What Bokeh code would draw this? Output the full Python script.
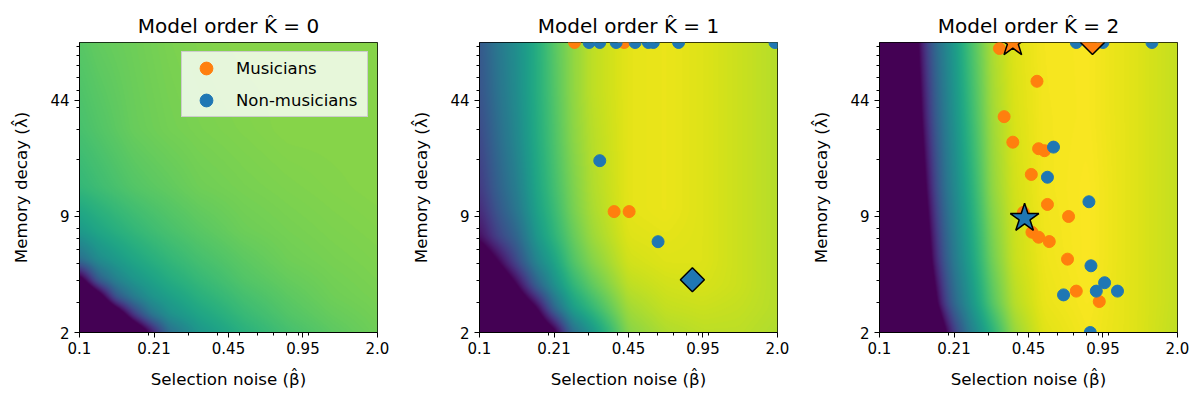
import numpy as np
from bokeh.plotting import figure
from bokeh.layouts import row
from bokeh.models import Range1d, FixedTicker, LinearColorMapper, Legend, LegendItem
from bokeh.palettes import Viridis256
from bokeh.embed import file_html
from bokeh.resources import INLINE

# ---------------- data ----------------
titles = ["Model order K\u0302 = 0", "Model order K\u0302 = 1", "Model order K\u0302 = 2"]
x_label = "Selection noise (\u03b2\u0302)"
y_label = "Memory decay (\u03bb\u0302)"
legend_labels = ["Musicians", "Non-musicians"]

x_min, x_max = 0.1, 2.0
y_min, y_max = 2.0, 95.0

x_tick_values = [0.1, 0.2115, 0.4472, 0.9457, 2.0]
x_tick_labels = ["0.1", "0.21", "0.45", "0.95", "2.0"]
x_minor_ticks = [0.2, 0.3, 0.4, 0.5, 0.6, 0.7, 0.8, 0.9, 1.0]
y_tick_values = [2.0, 9.38, 44.0]
y_tick_labels = ["2", "9", "44"]
y_minor_ticks = [3, 4, 5, 6, 7, 8, 10, 20, 30, 40, 50, 60, 70, 80, 90]

# heatmap readings: colour-scale position (0..1, below 0 = clipped dark) at
# (beta, lambda) reading points; rows go from lambda = 2 (bottom) to 95 (top)
k0_beta_nodes = [0.1, 0.1197, 0.1433, 0.1715, 0.2052, 0.2456, 0.3314, 0.5194, 0.8142, 1.276, 2.0]
k0_lambda_nodes = [2.0, 2.521, 3.179, 4.007, 5.251, 7.724, 13.78, 29.83, 95.0]
k0_z = [
    [-1.00, -0.82, -0.54, -0.26, 0.047, 0.362, 0.527, 0.636, 0.705, 0.750, 0.782],
    [-0.77, -0.49, -0.20, 0.155, 0.387, 0.503, 0.586, 0.674, 0.731, 0.767, 0.789],
    [-0.43, -0.15, 0.256, 0.413, 0.513, 0.563, 0.633, 0.703, 0.748, 0.781, 0.796],
    [-0.09, 0.291, 0.438, 0.522, 0.572, 0.618, 0.670, 0.730, 0.765, 0.788, 0.801],
    [0.360, 0.483, 0.542, 0.592, 0.630, 0.662, 0.705, 0.749, 0.782, 0.796, 0.806],
    [0.542, 0.592, 0.630, 0.662, 0.689, 0.712, 0.742, 0.778, 0.793, 0.804, 0.812],
    [0.664, 0.689, 0.712, 0.733, 0.747, 0.759, 0.782, 0.796, 0.806, 0.814, 0.820],
    [0.710, 0.730, 0.750, 0.770, 0.780, 0.790, 0.800, 0.810, 0.820, 0.820, 0.820],
    [0.740, 0.760, 0.770, 0.780, 0.790, 0.800, 0.810, 0.820, 0.820, 0.820, 0.820],
]

k1_beta_nodes = [0.1, 0.1197, 0.1454, 0.1767, 0.2115, 0.2531, 0.3075, 0.4472, 0.6503, 0.9457, 1.375, 2.0]
k1_lambda_nodes = [2.0, 2.724, 3.709, 5.052, 7.151, 10.12, 13.78, 26.57, 49.28, 95.0]
k1_z = [
    [-0.90, -0.70, -0.50, -0.25, -0.05, 0.35, 0.52, 0.82, 0.88, 0.90, 0.90, 0.88],
    [-0.70, -0.50, -0.25, -0.02, 0.33, 0.55, 0.66, 0.86, 0.91, 0.92, 0.91, 0.89],
    [-0.50, -0.25, 0.00, 0.30, 0.50, 0.65, 0.75, 0.90, 0.93, 0.94, 0.92, 0.89],
    [-0.20, -0.01, 0.22, 0.45, 0.58, 0.72, 0.81, 0.93, 0.95, 0.95, 0.92, 0.89],
    [0.04, 0.20, 0.33, 0.53, 0.65, 0.76, 0.85, 0.95, 0.96, 0.95, 0.92, 0.89],
    [0.12, 0.27, 0.40, 0.57, 0.68, 0.79, 0.87, 0.96, 0.97, 0.95, 0.92, 0.89],
    [0.17, 0.31, 0.43, 0.59, 0.70, 0.80, 0.88, 0.96, 0.97, 0.95, 0.92, 0.89],
    [0.22, 0.35, 0.47, 0.61, 0.72, 0.82, 0.89, 0.96, 0.97, 0.95, 0.92, 0.89],
    [0.26, 0.38, 0.49, 0.62, 0.73, 0.83, 0.90, 0.96, 0.97, 0.95, 0.92, 0.89],
    [0.28, 0.40, 0.50, 0.62, 0.74, 0.83, 0.90, 0.96, 0.97, 0.95, 0.92, 0.89],
]

k2_beta_nodes = [0.1, 0.1349, 0.1476, 0.1615, 0.1767, 0.1933, 0.2115, 0.2456, 0.3075,
                 0.385, 0.5194, 0.8142, 1.276, 2.0]
k2_lambda_nodes = [2.0, 2.942, 5.251, 13.78, 36.19, 95.0]
k2_z = [
    [-0.8, -0.80, -0.67, -0.46, -0.24, -0.02, 0.178, 0.407, 0.633, 0.843, 0.954, 0.985, 0.955, 0.905],
    [-0.8, -0.66, -0.45, -0.23, -0.02, 0.185, 0.338, 0.500, 0.729, 0.888, 0.968, 0.990, 0.955, 0.910],
    [-0.8, -0.53, -0.31, -0.10, 0.12, 0.286, 0.410, 0.557, 0.780, 0.915, 0.975, 0.995, 0.955, 0.910],
    [-0.8, -0.39, -0.18, 0.04, 0.23, 0.375, 0.467, 0.615, 0.831, 0.931, 0.981, 0.995, 0.955, 0.910],
    [-0.8, -0.29, -0.07, 0.14, 0.302, 0.420, 0.510, 0.660, 0.856, 0.942, 0.983, 0.990, 0.955, 0.910],
    [-0.8, -0.21, 0.008, 0.205, 0.354, 0.453, 0.543, 0.695, 0.872, 0.950, 0.985, 0.990, 0.955, 0.910],
]

# participants' fitted parameters (K = 1)
k1_mus_beta = [0.260, 0.428, 0.387, 0.450]
k1_mus_lambda = [95.0, 95.0, 10.0, 10.0]
k1_non_beta = [0.301, 0.335, 0.395, 0.478, 0.546, 0.574, 0.740, 1.95, 0.335, 0.602]
k1_non_lambda = [95.0, 95.0, 95.0, 95.0, 95.0, 95.0, 95.0, 95.0, 19.7, 6.7]

# participants' fitted parameters (K = 2)
k2_mus_beta = [0.334, 0.487, 0.350, 0.382, 0.495, 0.525, 0.460, 0.541, 0.669,
               0.425, 0.463, 0.495, 0.551, 0.662, 0.723, 0.911]
k2_mus_lambda = [87.7, 56.7, 35.4, 25.2, 23.1, 22.5, 16.4, 11.0, 9.37,
                 9.9, 7.60, 7.11, 6.71, 5.31, 3.47, 3.02]
k2_non_beta = [0.723, 0.945, 1.547, 0.575, 0.541, 0.821, 0.838, 0.961, 0.636, 0.884, 1.094, 0.832]
k2_non_lambda = [95.0, 95.0, 95.0, 23.6, 15.8, 11.4, 4.86, 3.88, 3.30, 3.47, 3.47, 2.0]

# group summary markers
k1_summary_beta = [0.850]
k1_summary_lambda = [4.04]
k1_summary_group = ["non"]
k1_summary_marker = ["diamond"]
k2_summary_beta = [0.382, 0.851, 0.430]
k2_summary_lambda = [95.0, 95.0, 9.16]
k2_summary_group = ["mus", "mus", "non"]
k2_summary_marker = ["star", "diamond", "star"]

ORANGE = "#ff7f0e"
BLUE = "#1f77b4"
FONT = "DejaVu Sans"


def upsample(bx, ly_nodes, z, nx=298, ny=290, sigma=3.0):
    z = np.asarray(z, dtype=float)
    lx = np.log10(bx)
    ly = np.log10(ly_nodes)
    gx = np.linspace(np.log10(x_min), np.log10(x_max), nx)
    gy = np.linspace(np.log10(y_min), np.log10(y_max), ny)
    tmp = np.array([np.interp(gx, lx, r) for r in z])
    out = np.array([np.interp(gy, ly, tmp[:, i]) for i in range(nx)]).T
    # soften the piecewise-linear creases for display
    rad = int(3 * sigma)
    k = np.exp(-0.5 * (np.arange(-rad, rad + 1) / sigma) ** 2)
    k /= k.sum()
    out = np.pad(out, rad, mode="edge")
    out = np.apply_along_axis(lambda m: np.convolve(m, k, mode="valid"), 0, out)
    out = np.apply_along_axis(lambda m: np.convolve(m, k, mode="valid"), 1, out)
    return out


def make_panel(title, img, width, border_right):
    p = figure(width=width, height=400, x_axis_type="log", y_axis_type="log",
               x_range=Range1d(x_min, x_max), y_range=Range1d(y_min, y_max),
               output_backend="svg", toolbar_location=None, title=title,
               min_border_left=79, min_border_right=border_right, min_border_top=42,
               min_border_bottom=68)
    p.background_fill_color = "white"
    p.border_fill_color = "white"
    p.outline_line_color = "black"
    p.outline_line_alpha = 1
    p.outline_line_width = 1
    p.xgrid.visible = False
    p.ygrid.visible = False
    p.title.text_font = FONT
    p.title.text_font_size = "20px"
    p.title.text_font_style = "normal"
    p.title.align = "center"
    p.title.text_color = "black"

    mapper = LinearColorMapper(palette=Viridis256, low=0.0, high=1.0)
    p.image(image=[img], x=x_min, y=y_min, dw=x_max - x_min, dh=y_max - y_min,
            color_mapper=mapper, level="image")

    p.xaxis.ticker = FixedTicker(ticks=x_tick_values, minor_ticks=x_minor_ticks)
    p.xaxis.major_label_overrides = {v: l for v, l in zip(x_tick_values, x_tick_labels)}
    p.yaxis.ticker = FixedTicker(ticks=y_tick_values, minor_ticks=y_minor_ticks)
    p.yaxis.major_label_overrides = {v: l for v, l in zip(y_tick_values, y_tick_labels)}
    p.xaxis.axis_label = x_label
    p.yaxis.axis_label = y_label
    for ax in (p.xaxis, p.yaxis):
        ax.axis_label_text_font = FONT
        ax.axis_label_text_font_size = "16.7px"
        ax.axis_label_text_font_style = "normal"
        ax.axis_label_text_color = "black"
        ax.major_label_text_font = FONT
        ax.major_label_text_font_size = "15px"
        ax.major_label_text_color = "black"
        ax.major_tick_out = 5
        ax.major_tick_in = 0
        ax.minor_tick_out = 3
        ax.minor_tick_in = 0
        ax.axis_line_color = "black"
        ax.major_tick_line_color = "black"
        ax.minor_tick_line_color = "black"
    p.xaxis.major_label_standoff = 4
    p.xaxis.axis_label_standoff = 12
    p.yaxis.major_label_standoff = 5
    p.yaxis.axis_label_standoff = 16
    return p


p0 = make_panel(titles[0], upsample(k0_beta_nodes, k0_lambda_nodes, k0_z), 400, 23)
p1 = make_panel(titles[1], upsample(k1_beta_nodes, k1_lambda_nodes, k1_z), 400, 23)
p2 = make_panel(titles[2], upsample(k2_beta_nodes, k2_lambda_nodes, k2_z), 396, 19)

# legend in first panel (no participants drawn there; handles sit outside the view)
r_mus = p0.scatter(x=[0.01], y=[1.0], size=12, fill_color=ORANGE, line_color=ORANGE)
r_non = p0.scatter(x=[0.01], y=[1.0], size=12, fill_color=BLUE, line_color=BLUE)
legend = Legend(items=[LegendItem(label=legend_labels[0], renderers=[r_mus]),
                       LegendItem(label=legend_labels[1], renderers=[r_non])],
                location="top_right", margin=9, padding=0, spacing=-7,
                glyph_height=32, glyph_width=48, label_standoff=6, label_width=131,
                label_text_font=FONT, label_text_font_size="16.5px", label_text_color="black",
                background_fill_color="white", background_fill_alpha=0.8,
                border_line_color="#cccccc", border_line_alpha=1, border_line_width=1)
p0.add_layout(legend)

# K = 1
p1.scatter(k1_mus_beta, k1_mus_lambda, size=12, fill_color=ORANGE, line_color=ORANGE)
p1.scatter(k1_non_beta, k1_non_lambda, size=12, fill_color=BLUE, line_color=BLUE)


def summary(p, betas, lambdas, groups, markers):
    for b, l, g, m in zip(betas, lambdas, groups, markers):
        col = ORANGE if g == "mus" else BLUE
        if m == "diamond":
            p.scatter([b], [l], marker="square", angle=np.pi / 4, size=17,
                      fill_color=col, line_color="black", line_width=1.5)
        else:
            p.scatter([b], [l], marker="star", size=30,
                      fill_color=col, line_color="black", line_width=1.5)


summary(p1, k1_summary_beta, k1_summary_lambda, k1_summary_group, k1_summary_marker)

# K = 2
p2.scatter(k2_mus_beta, k2_mus_lambda, size=12, fill_color=ORANGE, line_color=ORANGE)
p2.scatter(k2_non_beta, k2_non_lambda, size=12, fill_color=BLUE, line_color=BLUE)
summary(p2, k2_summary_beta, k2_summary_lambda, k2_summary_group, k2_summary_marker)

layout = row(p0, p1, p2)
open("out.html", "w").write(file_html(layout, INLINE))
